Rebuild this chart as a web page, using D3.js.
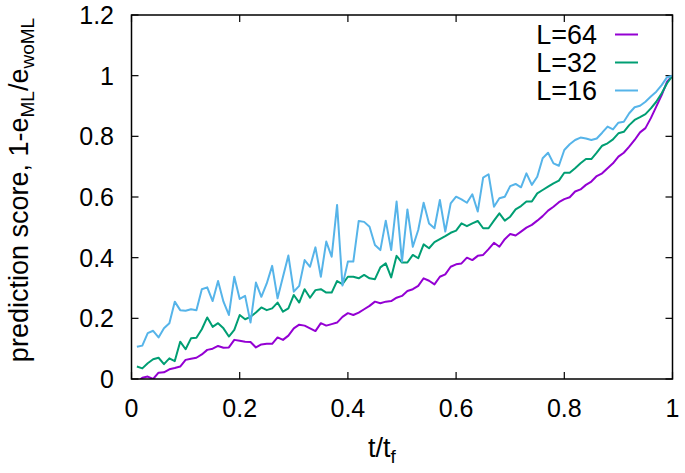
<!DOCTYPE html>
<html>
<head>
<meta charset="utf-8">
<script src="https://cdn.jsdelivr.net/npm/d3@7"></script>
<style>
  body { margin: 0; background: #fff; }
  text { font-family: "Liberation Sans", Arial, sans-serif; fill: #000; }
</style>
</head>
<body>
<div id="chart"></div>
<script>
// t/t_f grid, 0.01 .. 1.00
var tVals = d3.range(1, 101).map(function(i) { return i / 100; });

var scoreL64 = [
  -0.01, 0.004, 0.008, 0.0, 0.021, 0.022, 0.032, 0.036, 0.041, 0.063,
  0.067, 0.070, 0.081, 0.096, 0.100, 0.109, 0.103, 0.104, 0.129, 0.126,
  0.123, 0.122, 0.104, 0.114, 0.116, 0.116, 0.137, 0.129, 0.143, 0.167,
  0.179, 0.176, 0.167, 0.158, 0.184, 0.176, 0.181, 0.186, 0.205, 0.217,
  0.211, 0.219, 0.230, 0.241, 0.255, 0.250, 0.255, 0.257, 0.268, 0.274,
  0.290, 0.296, 0.307, 0.332, 0.324, 0.312, 0.337, 0.345, 0.370, 0.378,
  0.381, 0.400, 0.392, 0.406, 0.409, 0.428, 0.449, 0.436, 0.461, 0.478,
  0.473, 0.486, 0.499, 0.508, 0.522, 0.537, 0.555, 0.568, 0.583, 0.593,
  0.599, 0.618, 0.625, 0.640, 0.651, 0.669, 0.678, 0.695, 0.711, 0.733,
  0.746, 0.766, 0.788, 0.813, 0.827, 0.860, 0.898, 0.936, 0.980, 1.0
];

var scoreL32 = [
  0.041, 0.035, 0.052, 0.065, 0.070, 0.049, 0.068, 0.059, 0.123, 0.098,
  0.134, 0.136, 0.164, 0.203, 0.172, 0.184, 0.167, 0.140, 0.162, 0.211,
  0.197, 0.205, 0.219, 0.236, 0.227, 0.233, 0.252, 0.222, 0.233, 0.277,
  0.252, 0.296, 0.268, 0.293, 0.296, 0.285, 0.285, 0.323, 0.313, 0.337,
  0.337, 0.332, 0.343, 0.332, 0.329, 0.368, 0.381, 0.335, 0.406, 0.384,
  0.384, 0.409, 0.398, 0.444, 0.431, 0.451, 0.461, 0.471, 0.482, 0.489,
  0.513, 0.504, 0.513, 0.521, 0.497, 0.497, 0.522, 0.546, 0.522, 0.535,
  0.559, 0.570, 0.585, 0.585, 0.612, 0.623, 0.634, 0.645, 0.654, 0.680,
  0.680, 0.695, 0.711, 0.725, 0.725, 0.746, 0.769, 0.777, 0.790, 0.810,
  0.815, 0.837, 0.854, 0.863, 0.873, 0.892, 0.914, 0.942, 0.975, 1.0
];

var scoreL16 = [
  0.106, 0.110, 0.151, 0.159, 0.137, 0.167, 0.184, 0.255, 0.227, 0.225,
  0.230, 0.227, 0.296, 0.302, 0.257, 0.323, 0.255, 0.211, 0.337, 0.264,
  0.274, 0.186, 0.318, 0.271, 0.315, 0.373, 0.266, 0.337, 0.407, 0.288,
  0.307, 0.392, 0.370, 0.434, 0.337, 0.453, 0.403, 0.574, 0.308, 0.387,
  0.387, 0.521, 0.518, 0.502, 0.442, 0.425, 0.522, 0.425, 0.585, 0.387,
  0.559, 0.436, 0.491, 0.581, 0.513, 0.497, 0.590, 0.486, 0.579, 0.601,
  0.592, 0.581, 0.609, 0.552, 0.664, 0.675, 0.568, 0.596, 0.601, 0.636,
  0.643, 0.632, 0.678, 0.640, 0.667, 0.728, 0.746, 0.711, 0.703, 0.755,
  0.774, 0.788, 0.796, 0.793, 0.788, 0.793, 0.812, 0.832, 0.823, 0.845,
  0.848, 0.876, 0.896, 0.901, 0.914, 0.931, 0.947, 0.969, 0.995, 1.0
];

var seriesNames = ["L=64", "L=32", "L=16"];
var seriesColors = ["#9400d3", "#009e73", "#56b4e9"];
var xTicks = [0, 0.2, 0.4, 0.6, 0.8, 1];
var yTicks = [0, 0.2, 0.4, 0.6, 0.8, 1, 1.2];

var width = 685, height = 473;
var plotLeft = 131.5, plotRight = 672.5, plotTop = 15, plotBottom = 379;

var svg = d3.select("#chart").append("svg")
  .attr("width", width).attr("height", height);

var x = d3.scaleLinear().domain([0, 1]).range([plotLeft, plotRight]);
var y = d3.scaleLinear().domain([0, 1.2]).range([plotBottom, plotTop]);

// clip so the lines stay inside the frame
svg.append("clipPath").attr("id", "plotClip")
  .append("rect")
  .attr("x", plotLeft).attr("y", plotTop)
  .attr("width", plotRight - plotLeft).attr("height", plotBottom - plotTop);

// ticks (mirrored, pointing inwards)
var tickLen = 7;
var axisG = svg.append("g").attr("stroke", "#000").attr("stroke-width", 1.2);
xTicks.forEach(function(t) {
  axisG.append("line").attr("x1", x(t)).attr("x2", x(t)).attr("y1", plotBottom).attr("y2", plotBottom - tickLen);
  axisG.append("line").attr("x1", x(t)).attr("x2", x(t)).attr("y1", plotTop).attr("y2", plotTop + tickLen);
});
yTicks.forEach(function(t) {
  axisG.append("line").attr("x1", plotLeft).attr("x2", plotLeft + tickLen).attr("y1", y(t)).attr("y2", y(t));
  axisG.append("line").attr("x1", plotRight).attr("x2", plotRight - tickLen).attr("y1", y(t)).attr("y2", y(t));
});

// tick labels
svg.append("g").selectAll("text").data(xTicks).enter().append("text")
  .attr("x", function(d) { return x(d); })
  .attr("y", 417)
  .attr("text-anchor", "middle")
  .style("font-size", "25px")
  .text(function(d) { return d3.format("")(d); });

svg.append("g").selectAll("text").data(yTicks).enter().append("text")
  .attr("x", 114)
  .attr("y", function(d) { return y(d); })
  .attr("dy", "0.36em")
  .attr("text-anchor", "end")
  .style("font-size", "25px")
  .text(function(d) { return d3.format("")(d); });

// lines
var allSeries = [scoreL64, scoreL32, scoreL16];
var line = d3.line()
  .x(function(d, i) { return x(tVals[i]); })
  .y(function(d) { return y(d); });

var lineG = svg.append("g").attr("clip-path", "url(#plotClip)");
allSeries.forEach(function(s, k) {
  lineG.append("path")
    .datum(s)
    .attr("d", line)
    .attr("fill", "none")
    .attr("stroke", seriesColors[k])
    .attr("stroke-width", 2)
    .attr("stroke-linejoin", "round");
});

// frame
svg.append("rect")
  .attr("x", plotLeft).attr("y", plotTop)
  .attr("width", plotRight - plotLeft).attr("height", plotBottom - plotTop)
  .attr("fill", "none").attr("stroke", "#000").attr("stroke-width", 1.5);

// legend
seriesNames.forEach(function(name, k) {
  var ly = 34.5 + k * 28;
  svg.append("text")
    .attr("x", 597).attr("y", ly)
    .attr("dy", "0.36em")
    .attr("text-anchor", "end")
    .style("font-size", "27px")
    .text(name);
  svg.append("line")
    .attr("x1", 615).attr("x2", 638)
    .attr("y1", ly).attr("y2", ly)
    .attr("stroke", seriesColors[k]).attr("stroke-width", 2);
});

// axis titles
var xl = svg.append("text")
  .attr("x", 382).attr("y", 457)
  .attr("text-anchor", "middle")
  .style("font-size", "27px");
xl.append("tspan").text("t/t");
xl.append("tspan").attr("dy", 6).style("font-size", "19px").text("f");

var yl = svg.append("text")
  .attr("transform", "translate(28,190) rotate(-90)")
  .attr("text-anchor", "middle")
  .style("font-size", "27px");
yl.append("tspan").text("prediction score, 1-e");
yl.append("tspan").attr("dy", 6).style("font-size", "19px").text("ML");
yl.append("tspan").attr("dy", -6).text("/e");
yl.append("tspan").attr("dy", 6).style("font-size", "19px").text("woML");
</script>
</body>
</html>
